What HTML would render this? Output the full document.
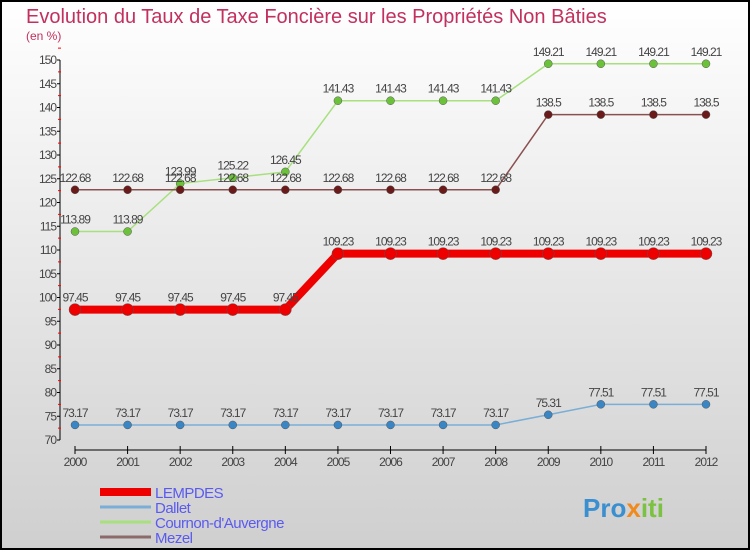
<!DOCTYPE html>
<html><head><meta charset="utf-8"><style>
body{margin:0}
svg{display:block;font-family:"Liberation Sans",sans-serif}
</style></head><body>
<svg width="750" height="550" viewBox="0 0 750 550">
<defs><linearGradient id="bg" x1="0" y1="0" x2="0" y2="1"><stop offset="0" stop-color="#ffffff"/><stop offset="1" stop-color="#cfcfcf"/></linearGradient></defs>
<rect x="1" y="1" width="748" height="548" fill="url(#bg)" stroke="#000" stroke-width="2"/>
<text x="26" y="23" font-size="20" fill="#c2305e">Evolution du Taux de Taxe Foncière sur les Propriétés Non Bâties</text>
<text x="26" y="40" font-size="12" fill="#c2305e">(en %)</text>
<g id="axes"></g>
<g id="series"></g>
<g id="legend"></g>
<text x="583" y="517" font-size="26" font-weight="bold" fill="#3a8fd0">Pro<tspan fill="#f08a1c">x</tspan><tspan fill="#7cc242">iti</tspan></text>
</svg>
<script>
const years=["2000","2001","2002","2003","2004","2005","2006","2007","2008","2009","2010","2011","2012"];
const lempdes=[97.45,97.45,97.45,97.45,97.45,109.23,109.23,109.23,109.23,109.23,109.23,109.23,109.23];
const dallet=[73.17,73.17,73.17,73.17,73.17,73.17,73.17,73.17,73.17,75.31,77.51,77.51,77.51];
const cournon=[113.89,113.89,123.99,125.22,126.45,141.43,141.43,141.43,141.43,149.21,149.21,149.21,149.21];
const mezel=[122.68,122.68,122.68,122.68,122.68,122.68,122.68,122.68,122.68,138.5,138.5,138.5,138.5];
const yTicks=[70,75,80,85,90,95,100,105,110,115,120,125,130,135,140,145,150];
const NS="http://www.w3.org/2000/svg";
const x=i=>75+i*(706-75)/12;
const y=v=>440-(v-70)*(380/80);
function mk(tag,attrs,parent,text){const e=document.createElementNS(NS,tag);for(const k in attrs)e.setAttribute(k,attrs[k]);if(text!==undefined)e.textContent=text;parent.appendChild(e);return e;}
const axes=document.getElementById('axes');
const ya=mk('line',{x1:60,y1:y(150),x2:60,y2:y(70),stroke:'#000'},axes);


yTicks.forEach(v=>{
 mk('line',{x1:57,y1:y(v),x2:60,y2:y(v),stroke:'#000'},axes);
 const t=mk('text',{x:56,y:y(v)+4,'font-size':12,'text-anchor':'end',fill:'#444','letter-spacing':'-1'},axes,String(v));
 
 
 mk('line',{x1:58,y1:y(v+2.5),x2:61,y2:y(v+2.5),stroke:'#f00'},axes);
});
const xa=mk('line',{x1:x(0),y1:450,x2:x(12),y2:450,stroke:'#000'},axes);


years.forEach((yr,i)=>{
 mk('line',{x1:x(i),y1:446,x2:x(i),y2:454,stroke:'#000'},axes);
 const t=mk('text',{x:x(i),y:466,'font-size':12,'text-anchor':'middle',fill:'#444','letter-spacing':'-1'},axes,yr);
 
 
});
const ser=document.getElementById('series');
function draw(vals,color,dot,w,r,name){
 const g=mk('g',{},ser);
 
 
 const l=mk('polyline',{points:vals.map((v,i)=>x(i)+','+y(v)).join(' '),fill:'none',stroke:color,'stroke-width':w},g);
 
 
 vals.forEach((v,i)=>{
  const c=mk('circle',{cx:x(i),cy:y(v),r:r,fill:dot,stroke:'#555','stroke-width':0.5},g);
  
  
  const t=mk('text',{x:x(i),y:y(v)-8,'font-size':12,'text-anchor':'middle',fill:'#444','letter-spacing':'-1'},g,String(v));
  
  
 });
}
draw(dallet,'#7aaed6','#3a86c4',1.5,4,'dallet');
draw(cournon,'#a8e07e','#6cc13a',1.5,4,'cournon');
draw(mezel,'#8a5050','#6b1a1a',1.5,4,'mezel');
draw(lempdes,'#ee0000','#ee0000',8,6,'lempdes');
const leg=document.getElementById('legend');
[["LEMPDES","#ee0000",8],["Dallet","#7aaed6",3],["Cournon-d'Auvergne","#a8e07e",3],["Mezel","#8a6a6a",3]].forEach((d,i)=>{
 const yy=492+i*15;
 const g=mk('g',{},leg);
 
 
 mk('line',{x1:100,y1:yy,x2:151,y2:yy,stroke:d[1],'stroke-width':d[2]},g);
 mk('text',{x:155,y:yy+6,'font-size':15,fill:'#5a5af0','letter-spacing':'-0.5'},g,d[0]);
});
</script>
</body></html>
